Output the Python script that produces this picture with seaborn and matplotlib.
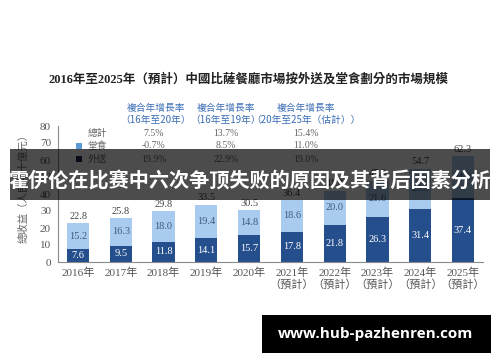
import matplotlib
matplotlib.use("Agg")
import matplotlib.pyplot as plt
import seaborn as sns
import pandas as pd
from matplotlib.patches import Rectangle

sns.set_theme(style="white")
plt.rcParams['font.family'] = ['Liberation Serif', 'Noto Sans CJK TC', 'DejaVu Sans']

# ---- data ----
years = ["2016年", "2017年", "2018年", "2019年", "2020年",
         "2021年\n（預計）", "2022年\n（預計）", "2023年\n（預計）",
         "2024年\n（預計）", "2025年\n（預計）"]
delivery = [7.6, 9.5, 11.8, 14.1, 15.7, 17.8, 21.8, 26.3, 31.4, 37.4]
dine_in = [15.2, 16.3, 18.0, 19.4, 14.8, 18.6, 20.0, 21.6, 23.3, 24.9]
totals = [22.8, 25.8, 29.8, 33.5, 30.5, 36.4, 41.8, 47.9, 54.7, 62.3]

row_names = ["總計", "堂食", "外送"]
cagr_headers = ["複合年增長率\n（16年至20年）", "複合年增長率\n（16年至19年）", "複合年增長率\n（20年至25年（估計））"]
cagr_16_20 = ["7.5%", "-0.7%", "19.9%"]
cagr_16_19 = ["13.7%", "8.5%", "22.9%"]
cagr_20_25 = ["15.4%", "11.0%", "19.0%"]

title = "2016年至2025年（預計）中國比薩餐廳市場按外送及堂食劃分的市場規模"
ylabel = "總收益（人民幣十億元）"
banner = "霍伊伦在比赛中六次争顶失败的原因及其背后因素分析"
watermark = "www.hub-pazhenren.com"

LIGHT = "#a9cbef"
DARK = "#244e8c"
W, H = 500, 362

df = pd.DataFrame({"year": years, "delivery": delivery, "dine_in": dine_in, "total": totals})

fig = plt.figure(figsize=(W / 100, H / 100), dpi=100)
fig.patch.set_facecolor("white")

def fx(px):
    return px / W

def fy(py):
    return 1 - py / H

ax = fig.add_axes([fx(58), fy(262), fx(483) - fx(58), fy(126) - fy(262)])
sns.barplot(data=df, x="year", y="total", color=LIGHT, width=0.52, ax=ax,
            saturation=1, edgecolor="none")
sns.barplot(data=df, x="year", y="delivery", color=DARK, width=0.52, ax=ax,
            saturation=1, edgecolor="none")

ax.set_xlim(-0.47, 9.47)
ax.set_ylim(0, 80)
ax.set_yticks(range(0, 81, 10))
ax.set_xlabel("")
ax.set_ylabel(ylabel, fontsize=7.5, color="#666666", family=['Noto Sans CJK TC'])
ax.yaxis.set_label_coords(-0.07, 0.56)
for s in ["top", "right"]:
    ax.spines[s].set_visible(False)
for s in ["left", "bottom"]:
    ax.spines[s].set_color("#8a8a8a")
    ax.spines[s].set_linewidth(0.8)
ax.tick_params(axis="y", length=3, width=0.8, color="#8a8a8a", labelsize=8, labelcolor="#555555", pad=2)
ax.tick_params(axis="x", length=0, labelsize=8, labelcolor="#555555", pad=4)
for lab in ax.get_xticklabels():
    lab.set_linespacing(1.15)

for i in range(len(years)):
    ax.text(i, delivery[i] / 2, f"{delivery[i]:.1f}", ha="center", va="center",
            fontsize=7.5, color="white")
    ax.text(i, delivery[i] + dine_in[i] / 2, f"{dine_in[i]:.1f}", ha="center", va="center",
            fontsize=7.5, color="#3d5a80")
    ax.text(i, totals[i] + 1.5, f"{totals[i]:.1f}", ha="center",
            va="bottom", fontsize=7.5, color="#444444")

# title
fig.text(fx(248), fy(79), title, ha="center", va="center", fontsize=9, fontweight="bold",
         color="#222222")

# table headers
for cx, h in zip([156, 226, 306], cagr_headers):
    fig.text(fx(cx), fy(114), h, ha="center", va="center", fontsize=7, color="#3a6db5",
             family=['Noto Sans CJK TC'], linespacing=1.25)

rows_y = [133, 146, 159]
for ry, name, a, b, c in zip(rows_y, row_names, cagr_16_20, cagr_16_19, cagr_20_25):
    fig.text(fx(97), fy(ry), name, ha="center", va="center", fontsize=7, color="#666666",
             family=['Noto Sans CJK TC'])
    fig.text(fx(154), fy(ry), a, ha="center", va="center", fontsize=7, color="#666666")
    fig.text(fx(226), fy(ry), b, ha="center", va="center", fontsize=7, color="#666666")
    fig.text(fx(306), fy(ry), c, ha="center", va="center", fontsize=7, color="#666666")

fig.patches.append(Rectangle((fx(76), fy(149)), fx(6), fy(143) - fy(149), transform=fig.transFigure,
                             facecolor="#5b9bd5", edgecolor="none"))
fig.patches.append(Rectangle((fx(76), fy(162)), fx(6), fy(156) - fy(162), transform=fig.transFigure,
                             facecolor="#1a2a4a", edgecolor="none"))

# banner overlay
fig.patches.append(Rectangle((fx(10), fy(200)), fx(480), fy(149) - fy(200), transform=fig.transFigure,
                             facecolor="black", alpha=0.7, edgecolor="none", zorder=10))
fig.text(fx(250), fy(181), banner, ha="center", va="center", fontsize=14.5, fontweight="bold",
         color="white", family=['Noto Sans CJK SC'], zorder=11)

# watermark
fig.patches.append(Rectangle((fx(262), fy(353)), fx(229), fy(315) - fy(353), transform=fig.transFigure,
                             facecolor="black", edgecolor="none", zorder=10))
fig.text(fx(376), fy(334), watermark, ha="center", va="center", fontsize=11, fontweight="bold",
         color="white", family=['Open Sans'], zorder=11)

fig.savefig("out.png", dpi=100, facecolor="white")
